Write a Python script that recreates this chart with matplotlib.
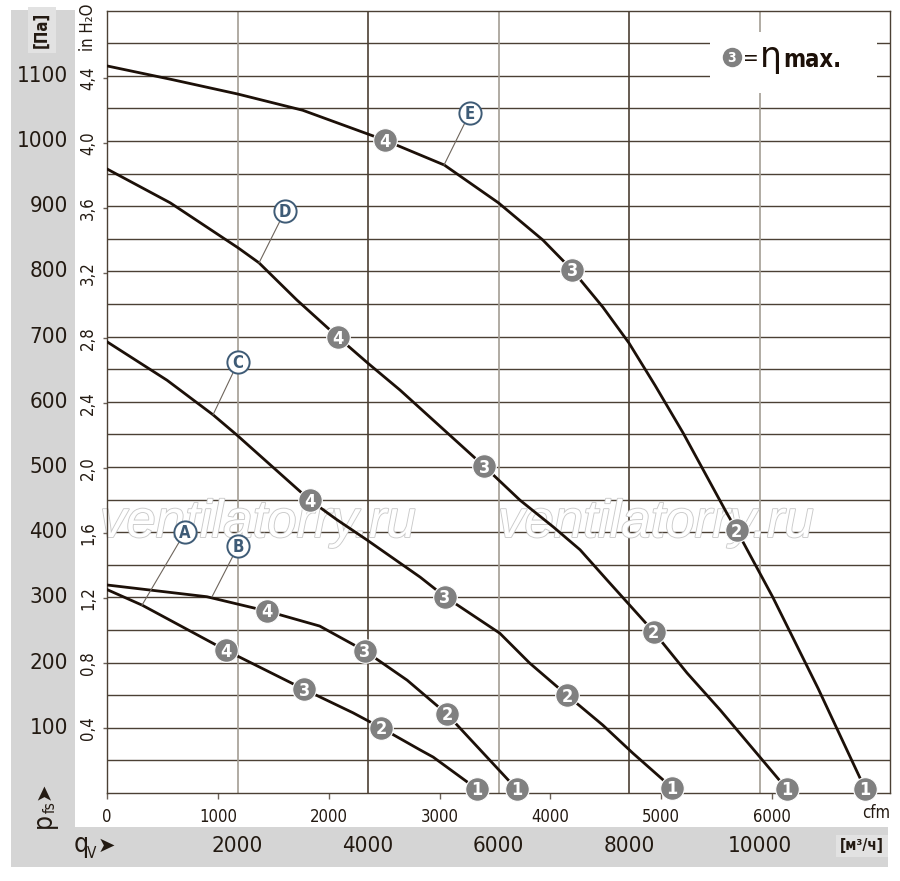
import matplotlib
matplotlib.use('Agg')
import matplotlib.pyplot as plt
import matplotlib.transforms as mtransforms
import matplotlib.patheffects as pe
from matplotlib.patches import Rectangle
from matplotlib import font_manager as fm

# ищем узкий шрифт, если есть
fonts = {(f.name, f.stretch) for f in fm.fontManager.ttflist}
names = {n for n, s in fonts}
narrow = True
if 'Liberation Sans Narrow' in names:
    base = 'Liberation Sans Narrow'
elif ('DejaVu Sans', 'condensed') in fonts:
    base = 'DejaVu Sans'
    plt.rcParams['font.stretch'] = 'condensed'
else:
    base = 'Liberation Sans'
    narrow = False
plt.rcParams['font.family'] = [base, 'DejaVu Sans']
k = 1.0 if narrow else 0.88

CFM = 1.69901     # м3/ч в 1 cfm
INH2O = 249.089   # Па в 1 in H2O

# кривые: расход [м3/ч], давление [Па]
e_q = [0, 1000, 2000, 3000, 4260, 5170, 6000, 6680, 7130, 7600, 8000, 8400, 8830, 9500, 9650, 10200, 10900, 11620]
e_p = [1115, 1094, 1072, 1047, 1001, 963, 905, 848, 802, 745, 690, 625, 552, 429, 403, 301, 160, 6]
d_q = [0, 970, 2010, 2330, 2910, 3540, 4000, 4490, 5780, 6330, 6840, 7250, 7660, 8380, 8890, 9400, 10420]
d_p = [957, 905, 836, 813, 756, 699, 659, 618, 501, 449, 408, 373, 327, 247, 184, 127, 6]
c_q = [0, 920, 1625, 1990, 3110, 3525, 3985, 4800, 5180, 6020, 6480, 7050, 7600, 8060, 8660]
c_p = [692, 633, 580, 549, 449, 419, 388, 331, 301, 245, 199, 150, 104, 61, 8]
b_q = [0, 1530, 2450, 3260, 3950, 4600, 5210, 6130, 6280]
b_p = [319, 301, 279, 256, 218, 173, 121, 22, 6]
a_q = [0, 540, 1820, 3020, 3770, 4200, 4800, 5000, 5520, 5670]
a_p = [312, 288, 219, 159, 123, 100, 66, 55, 17, 6]

# рабочие точки 4, 3, 2, 1
pt_num = ['4', '3', '2', '1']
e_mq = [4260, 7130, 9650, 11620]
e_mp = [1001, 802, 403, 6]
d_mq = [3540, 5780, 8380, 10420]
d_mp = [699, 501, 247, 6]
c_mq = [3110, 5180, 7050, 8660]
c_mp = [449, 301, 150, 8]
b_mq = [2450, 3950, 5210, 6280]
b_mp = [279, 218, 121, 6]
a_mq = [1820, 3020, 4200, 5670]
a_mp = [219, 159, 100, 6]

pa_ticks = [100, 200, 300, 400, 500, 600, 700, 800, 900, 1000, 1100]
in_ticks = [0.4, 0.8, 1.2, 1.6, 2.0, 2.4, 2.8, 3.2, 3.6, 4.0, 4.4]
cfm_ticks = [0, 1000, 2000, 3000, 4000, 5000, 6000]
m3h_ticks = [2000, 4000, 6000, 8000, 10000]

W, H = 900, 881
fig = plt.figure(figsize=(9, 8.81), dpi=100)
fig.patch.set_facecolor('white')
txt_c = '#231a12'

def ptxt(px, py, s, **kw):
    fig.text(px / W, 1 - py / H, s, **kw)

# серые поля
band = '#d5d5d5'
fig.add_artist(Rectangle((11 / W, 1 - 867 / H), 64 / W, 857 / H, transform=fig.transFigure,
                         fc=band, ec='none', zorder=0))
fig.add_artist(Rectangle((11 / W, 1 - 867 / H), 877 / W, 40 / H, transform=fig.transFigure,
                         fc=band, ec='none', zorder=0))

ax = fig.add_axes([107 / W, 88 / H, 783 / W, 782.5 / H])
ax.set_xlim(0, 12000)
ax.set_ylim(0, 1200)
ax.set_facecolor('white')

dark = '#4b4034'
light = '#a39d93'
for p in range(50, 1200, 50):
    ax.axhline(p, color=dark, lw=1.0, zorder=1)
for i, m in enumerate(m3h_ticks):
    ax.axvline(m, color=light if i % 2 == 0 else dark, lw=1.2, zorder=1)
for s in ax.spines.values():
    s.set_color(dark)
    s.set_linewidth(1.0)

# водяные знаки
for xc in [258, 656]:
    ax.text((xc - 107) / 783, (793 - 537) / 782.5, 'ventilatorry.ru', transform=ax.transAxes,
            ha='center', va='baseline', fontsize=38, style='italic', family='Liberation Sans',
            stretch='normal', color='white', zorder=1.5,
            path_effects=[pe.Stroke(linewidth=1.3, foreground='#cacaca'), pe.Normal()])

# оси
ax.set_xticks([c * CFM for c in cfm_ticks])
ax.set_xticklabels([str(c) for c in cfm_ticks], fontsize=12 * k, color=txt_c)
ax.tick_params(axis='x', direction='out', length=4, width=1, color='#6b6158', pad=7)
ax.set_yticks([v * INH2O for v in in_ticks])
ax.set_yticklabels([])
ax.tick_params(axis='y', direction='out', length=3, width=1, color='#6b6158')

ty = mtransforms.blended_transform_factory(ax.transAxes, ax.transData)
tx = mtransforms.blended_transform_factory(ax.transData, ax.transAxes)
for p in pa_ticks:
    ax.text(-0.05, p, str(p), transform=ty, ha='right', va='center', fontsize=16 * k, color=txt_c)
for v in in_ticks:
    ax.text(-0.024, v * INH2O, ('%.1f' % v).replace('.', ','), transform=ty, rotation=90,
            ha='center', va='center', fontsize=12 * k, color=txt_c)
for m in m3h_ticks:
    ax.text(m, -0.0677, str(m), transform=tx, ha='center', va='center', fontsize=16 * k, color=txt_c)
ax.text(0.982, -0.026, 'cfm', transform=ax.transAxes, ha='center', va='center', fontsize=12 * k,
        color=txt_c)
ax.text(0.964, -0.0677, '[м³/ч]', transform=ax.transAxes, ha='center', va='center', fontsize=11 * k,
        fontweight='bold', color=txt_c,
        bbox=dict(boxstyle='square,pad=0.25', fc='#e2e2e2', ec='none'))

ptxt(42, 30, '[Па]', rotation=90, ha='center', va='center', fontsize=12 * k, fontweight='bold',
     color=txt_c, bbox=dict(boxstyle='square,pad=0.3', fc='#e2e2e2', ec='none'))
ptxt(88, 27, 'in H₂O', rotation=90, ha='center', va='center', fontsize=12 * k, color=txt_c)

# p_fs и q_V
ptxt(44, 821, 'p', rotation=90, ha='center', va='center', fontsize=19, color=txt_c)
ptxt(50, 807, 'fs', rotation=90, ha='center', va='center', fontsize=11, color=txt_c)
ptxt(44, 791, '➤', rotation=90, ha='center', va='center', fontsize=15, color=txt_c,
     family='DejaVu Sans', stretch='normal')
ptxt(81, 845, 'q', ha='center', va='center', fontsize=19, color=txt_c)
ptxt(92, 854, 'V', ha='center', va='center', fontsize=11, color=txt_c)
ptxt(106, 846, '➤', ha='center', va='center', fontsize=15, color=txt_c, family='DejaVu Sans',
     stretch='normal')

# легенда
ax.add_patch(Rectangle((0.770, 0.895), 0.213, 0.078, transform=ax.transAxes, fc='white',
                       ec='none', zorder=2))
ax.plot([0.798], [0.940], 'o', ms=14, mfc='#808080', mec='none', transform=ax.transAxes, zorder=4)
ax.annotate('3', (0.798, 0.940), xycoords='axes fraction', xytext=(0, -3.6),
            textcoords='offset points', ha='center', va='baseline', fontsize=10,
            fontweight='bold', color='white', zorder=5)
lb = (793 - 67) / 782.5
ax.text(0.822, lb + 0.002, '=', transform=ax.transAxes, ha='center', va='baseline', fontsize=15,
        color='#1c1008', zorder=5)
ax.text(0.848, lb, 'η', transform=ax.transAxes, ha='center', va='baseline', fontsize=25,
        family='DejaVu Sans', stretch='normal', color='#1c1008', zorder=5)
ax.text(0.8635, lb, 'max.', transform=ax.transAxes, ha='left', va='baseline', fontsize=17 * k,
        fontweight='bold', color='#1c1008', zorder=5)

# кривые
line_c = '#1c1008'
curves = [(a_q, a_p, a_mq, a_mp), (b_q, b_p, b_mq, b_mp), (c_q, c_p, c_mq, c_mp),
          (d_q, d_p, d_mq, d_mp), (e_q, e_p, e_mq, e_mp)]
for q, p, mq, mp in curves:
    ax.plot(q, p, color=line_c, lw=2.0, zorder=3, solid_joinstyle='round')
    ax.plot(mq, mp, 'o', ms=17, mfc='#808080', mec='white', mew=0.8, zorder=4, clip_on=False)
    for xq, yp, n in zip(mq, mp, pt_num):
        ax.annotate(n, (xq, yp), xytext=(0, -4.6), textcoords='offset points', ha='center',
                    va='baseline', fontsize=13, fontweight='bold', color='white', zorder=5,
                    annotation_clip=False)

# подписи кривых: (метка, точка на кривой)
tags = {'A': ((1195, 400), (536, 288)),
        'B': ((2010, 379), (1610, 301)),
        'C': ((2010, 661), (1625, 580)),
        'D': ((2730, 893), (2330, 813)),
        'E': ((5560, 1043), (5165, 963))}
tag_c = '#3e5b76'
for name, (lab, pt) in tags.items():
    ax.plot([lab[0], pt[0]], [lab[1], pt[1]], color='#6e655c', lw=0.8, zorder=3)
    ax.plot([lab[0]], [lab[1]], 'o', ms=16, mfc='white', mec=tag_c, mew=1.4, zorder=4)
    ax.annotate(name, (lab[0], lab[1]), xytext=(0, -4.3), textcoords='offset points',
                ha='center', va='baseline', fontsize=12, fontweight='bold', color=tag_c, zorder=5)

fig.savefig('out.png', dpi=100)
